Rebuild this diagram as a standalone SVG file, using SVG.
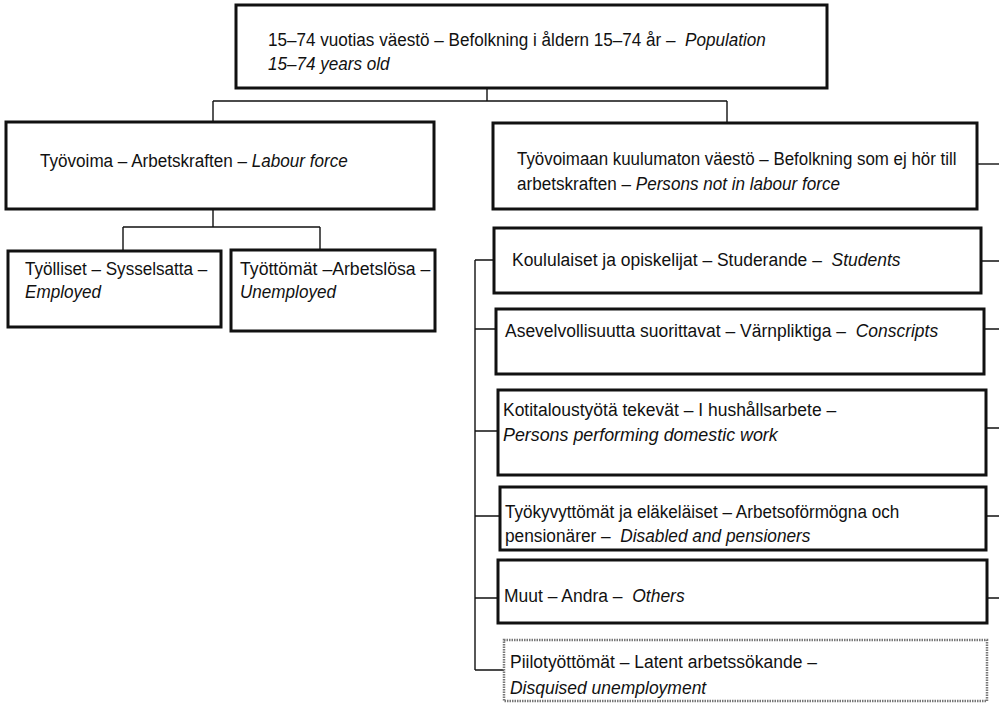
<svg xmlns="http://www.w3.org/2000/svg" width="999" height="703" viewBox="0 0 999 703">
<style>
.bg{fill:#fff}
.box{fill:#fff;stroke:#111;stroke-width:3}
.dbox{fill:#fff;stroke:#777;stroke-width:2.5;stroke-dasharray:1.5 1}
.con{fill:none;stroke:#111;stroke-width:1.4}
text{font-family:"Liberation Sans",Arial,sans-serif;font-size:19px;fill:#111}
.i{font-style:italic}
</style>
<rect class="bg" x="0" y="0" width="999" height="703"/>
<g id="connectors">
<path class="con" d="M487 88V101M213 101H727M213 101V122M727 101V123"/>
<path class="con" d="M213 209V227M123 227H320M123 227V250M320 227V250"/>
<path class="con" d="M977 164H999"/>
<path class="con" d="M475 260V670M475 260H494M475 329H496M475 431H498M475 516H500M475 598H498M475 670H504"/>
<path class="con" d="M981 261H999M984 329H999M986 428H999M986 516H999M987 598H999"/>
</g>
<g id="n-population">
<rect class="box" x="236" y="5" width="591" height="83"/>
<text transform="translate(268,46) scale(0.9,1)">15–74 vuotias väestö – Befolkning i åldern 15–74 år –&#160; <tspan class="i">Population</tspan></text>
<text class="i" transform="translate(268,70) scale(0.9,1)">15–74 years old</text>
</g>
<g id="n-labourforce">
<rect class="box" x="6" y="122" width="428" height="87"/>
<text transform="translate(40,167) scale(0.9,1)">Työvoima – Arbetskraften – <tspan class="i">Labour force</tspan></text>
</g>
<g id="n-employed">
<rect class="box" x="8" y="251" width="213" height="76"/>
<text transform="translate(25,275) scale(0.9,1)">Työlliset – Sysselsatta –</text>
<text class="i" transform="translate(25,298) scale(0.9,1)">Employed</text>
</g>
<g id="n-unemployed">
<rect class="box" x="231" y="250" width="204" height="81"/>
<text transform="translate(240,275) scale(0.93,1)">Työttömät –Arbetslösa –</text>
<text class="i" transform="translate(240,298) scale(0.9,1)">Unemployed</text>
</g>
<g id="n-notlabourforce">
<rect class="box" x="493" y="123" width="484" height="86"/>
<text transform="translate(517,165) scale(0.89,1)">Työvoimaan kuulumaton väestö – Befolkning som ej hör till</text>
<text transform="translate(517,190) scale(0.9,1)">arbetskraften – <tspan class="i">Persons not in labour force</tspan></text>
</g>
<g id="n-students">
<rect class="box" x="494" y="228" width="487" height="65"/>
<text transform="translate(512,266) scale(0.92,1)">Koululaiset ja opiskelijat – Studerande –&#160; <tspan class="i">Students</tspan></text>
</g>
<g id="n-conscripts">
<rect class="box" x="496" y="309" width="488" height="65"/>
<text transform="translate(505,337) scale(0.92,1)">Asevelvollisuutta suorittavat – Värnpliktiga –&#160; <tspan class="i">Conscripts</tspan></text>
</g>
<g id="n-domestic">
<rect class="box" x="498" y="390" width="488" height="85"/>
<text transform="translate(503,416) scale(0.92,1)">Kotitaloustyötä tekevät – I hushållsarbete –</text>
<text class="i" transform="translate(503,441) scale(0.94,1)">Persons performing domestic work</text>
</g>
<g id="n-disabled">
<rect class="box" x="500" y="487" width="486" height="63"/>
<text transform="translate(505,518) scale(0.9,1)">Työkyvyttömät ja eläkeläiset – Arbetsoförmögna och</text>
<text transform="translate(505,542) scale(0.91,1)">pensionärer –&#160; <tspan class="i">Disabled and pensioners</tspan></text>
</g>
<g id="n-others">
<rect class="box" x="498" y="560" width="489" height="63"/>
<text transform="translate(504,602) scale(0.92,1)">Muut – Andra –&#160; <tspan class="i">Others</tspan></text>
</g>
<g id="n-disguised">
<rect class="dbox" x="504" y="640" width="483" height="61"/>
<text transform="translate(510,668) scale(0.92,1)">Piilotyöttömät – Latent arbetssökande –</text>
<text class="i" transform="translate(510,694) scale(0.92,1)">Disquised unemployment</text>
</g>
</svg>
